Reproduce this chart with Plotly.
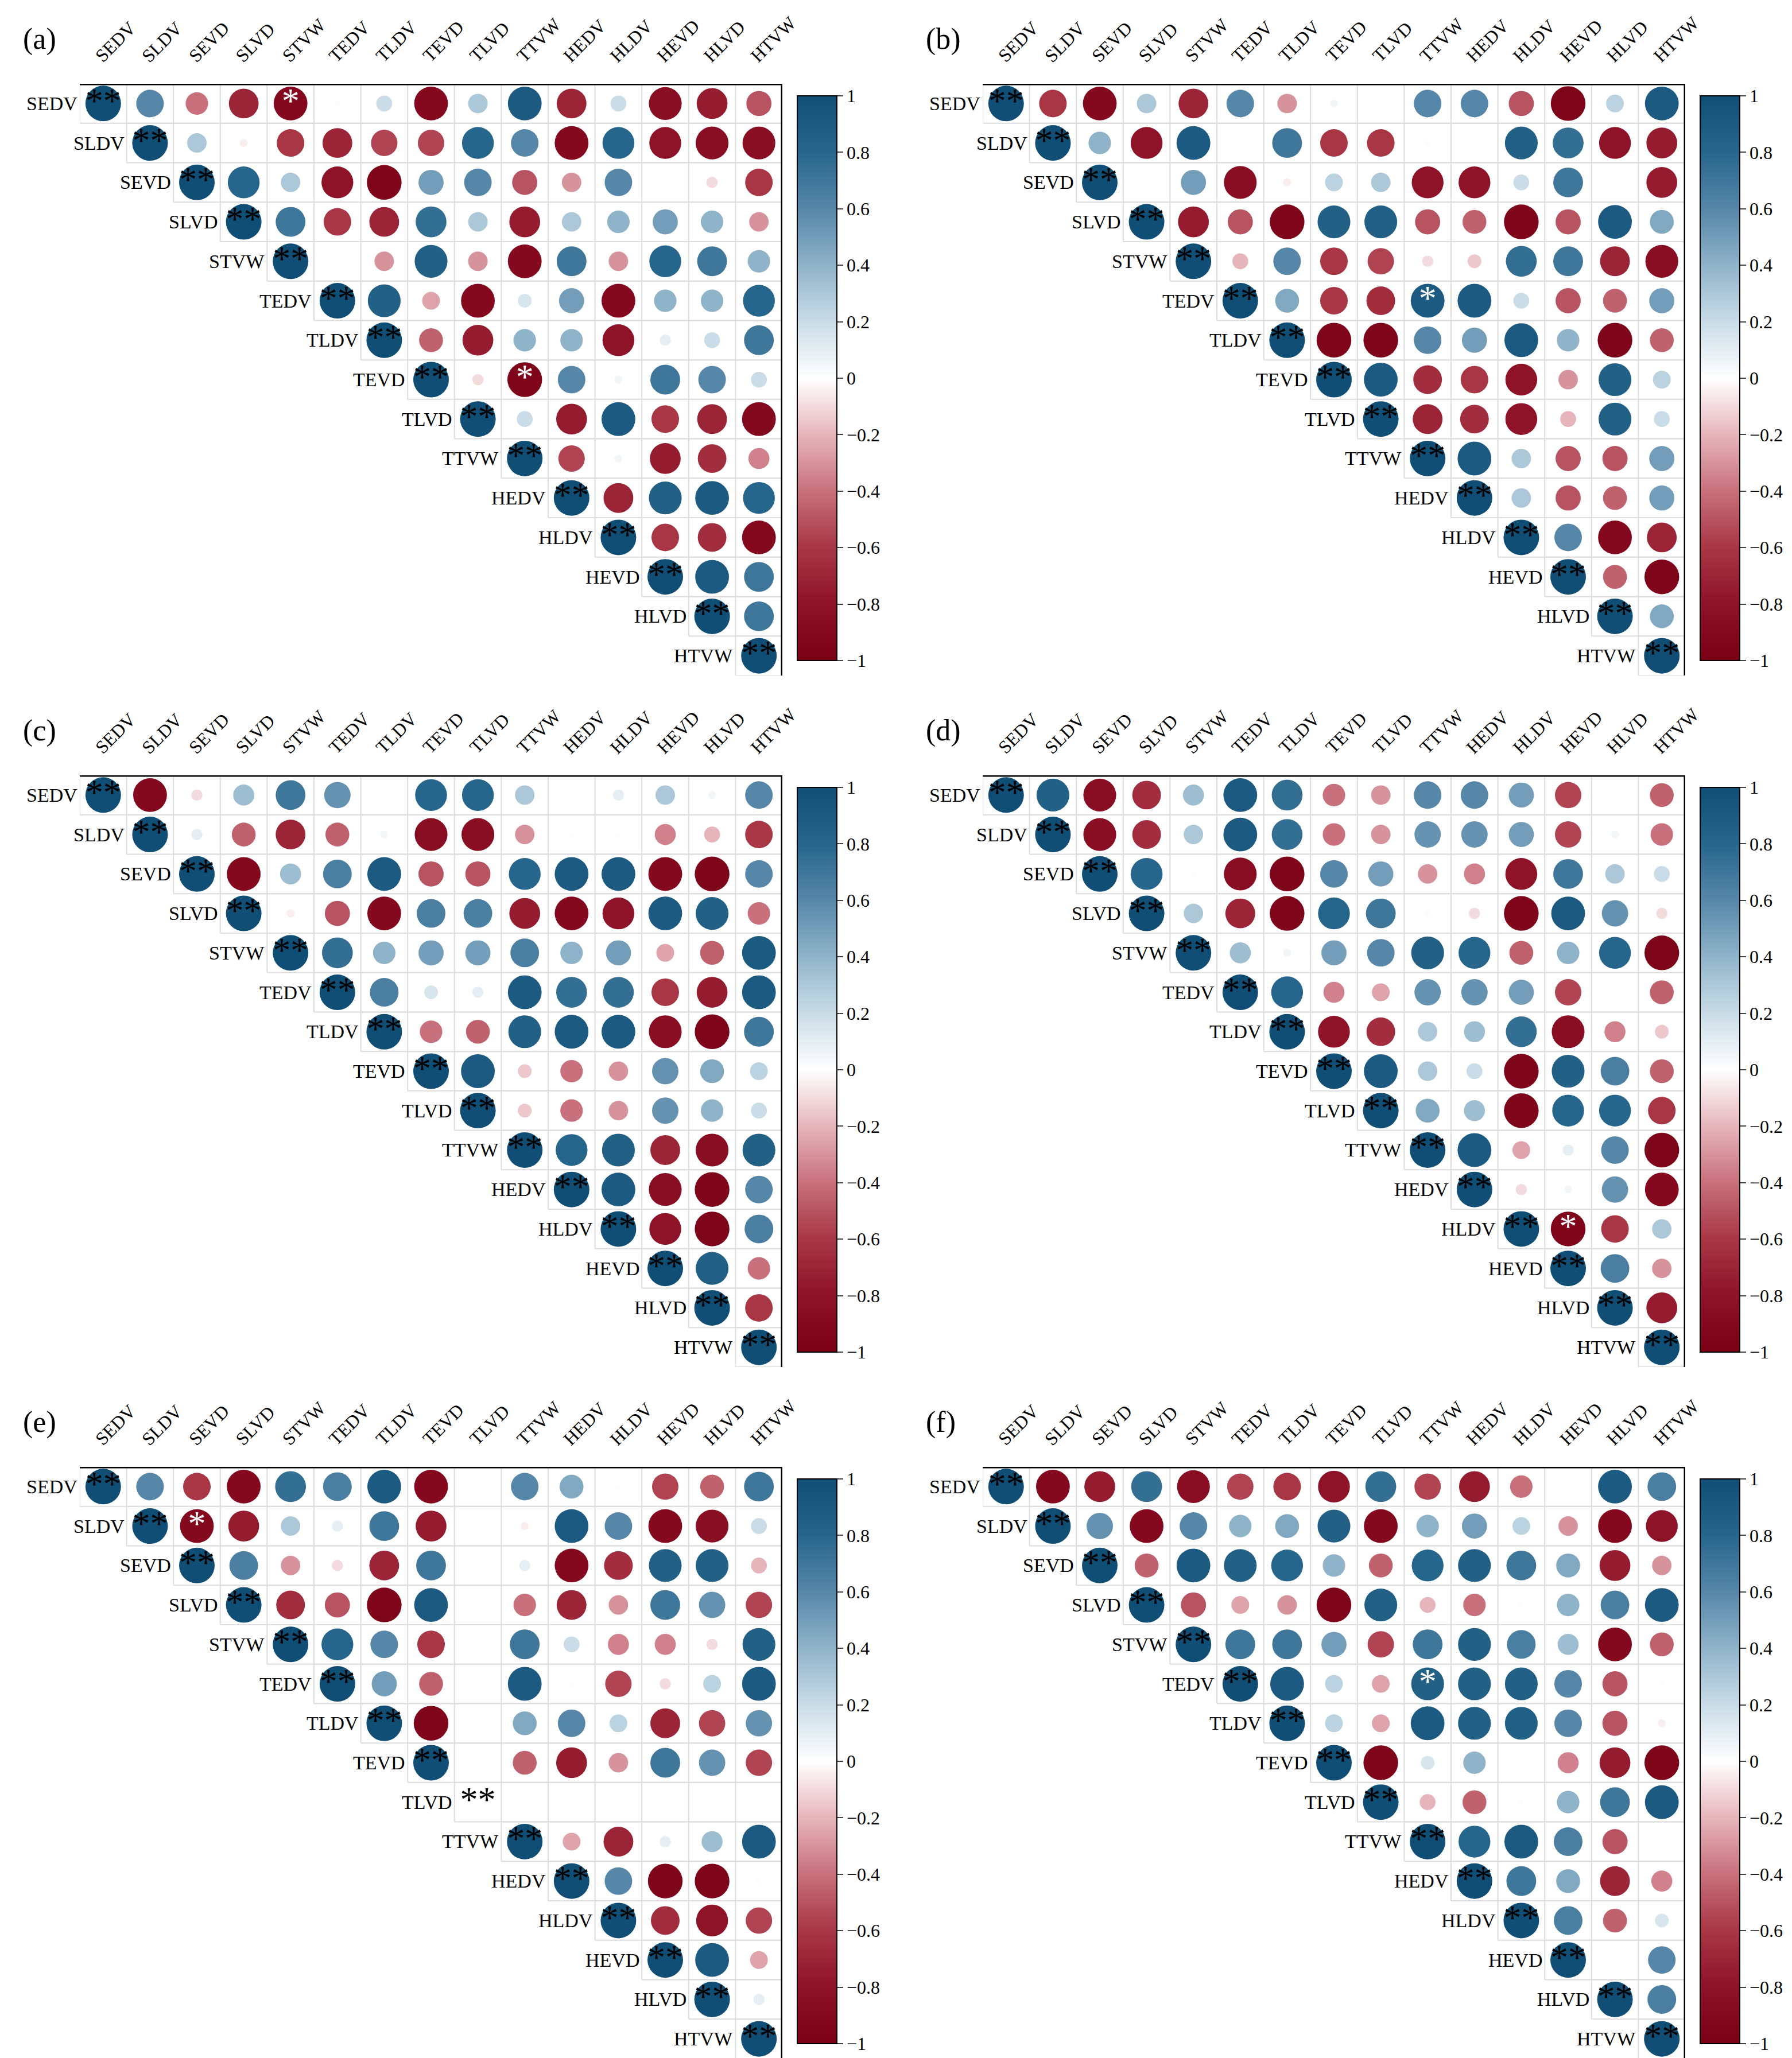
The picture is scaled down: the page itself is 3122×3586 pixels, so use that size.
import plotly.graph_objects as go
import numpy as np

VARS = ["SEDV","SLDV","SEVD","SLVD","STVW","TEDV","TLDV","TEVD","TLVD","TTVW","HEDV","HLDV","HEVD","HLVD","HTVW"]
N = None
# upper-triangle rows (values right of diagonal)
A = [
 [0.6,-0.4,-0.7,-0.9,0.02,0.2,-0.9,0.3,0.9,-0.7,0.2,-0.85,-0.75,-0.5],
 [0.3,-0.05,-0.6,-0.7,-0.55,-0.55,0.8,0.6,-0.9,0.8,-0.8,-0.85,-0.85],
 [0.8,0.3,-0.8,-0.95,0.5,0.6,-0.5,-0.3,0.6,0.0,-0.1,-0.6],
 [0.7,-0.6,-0.7,0.75,0.3,-0.75,0.3,0.4,0.5,0.4,-0.3],
 [0.0,-0.3,0.85,-0.3,-0.9,0.7,-0.3,0.8,0.7,0.4],
 [0.85,-0.25,-0.9,0.15,0.5,-0.9,0.4,0.4,0.8],
 [-0.45,-0.75,0.4,0.4,-0.8,0.1,0.2,0.7],
 [-0.1,-0.95,0.6,0.05,0.7,0.6,0.2],
 [0.2,-0.75,0.9,-0.6,-0.7,-0.9],
 [-0.55,0.05,-0.75,-0.65,-0.35],
 [-0.7,0.85,0.9,0.8],
 [-0.6,-0.65,-0.9],
 [0.9,0.7],
 [0.7],
]
B = [
 [-0.6,-0.9,0.3,-0.7,0.6,-0.3,0.05,0.0,0.6,0.6,-0.5,-0.95,0.25,0.9],
 [0.4,-0.8,0.9,0.0,0.7,-0.6,-0.6,0.02,0.0,0.85,0.75,-0.8,-0.75],
 [0.0,0.5,-0.85,-0.05,0.25,0.3,-0.8,-0.8,0.2,0.7,0.0,-0.75],
 [-0.75,-0.5,-0.95,0.85,0.85,-0.5,-0.45,-0.95,-0.5,0.9,0.45],
 [-0.2,0.6,-0.6,-0.55,-0.1,-0.15,0.75,0.7,-0.7,-0.85],
 [0.45,-0.6,-0.65,0.9,0.9,0.2,-0.5,-0.45,0.5],
 [-0.95,-0.95,0.6,0.5,0.9,0.4,-0.95,-0.45],
 [0.9,-0.65,-0.6,-0.8,-0.3,0.85,0.25],
 [-0.7,-0.65,-0.8,-0.2,0.85,0.2],
 [0.9,0.3,-0.5,-0.5,0.5],
 [0.3,-0.5,-0.45,0.5],
 [0.6,-0.9,-0.7],
 [-0.45,-0.95],
 [0.45],
]
C = [
 [-0.9,-0.1,0.35,0.7,0.55,0.0,0.8,0.8,0.3,0.0,0.1,0.3,0.05,0.6],
 [0.1,-0.45,-0.7,-0.45,0.05,-0.85,-0.85,-0.3,0.02,0.02,-0.35,-0.2,-0.6],
 [-0.9,0.35,0.65,0.9,-0.5,-0.5,0.8,0.9,0.9,-0.9,-0.95,0.6],
 [-0.05,-0.5,-0.9,0.65,0.65,-0.75,-0.9,-0.8,0.9,0.85,-0.4],
 [0.75,0.4,0.5,0.5,0.65,0.4,0.5,-0.25,-0.45,0.9],
 [0.65,0.15,0.1,0.9,0.75,0.75,-0.6,-0.75,0.9],
 [-0.4,-0.45,0.85,0.9,0.9,-0.85,-0.95,0.7],
 [0.9,-0.15,-0.4,-0.3,0.55,0.45,0.25],
 [-0.15,-0.4,-0.3,0.55,0.4,0.2],
 [0.8,0.85,-0.7,-0.85,0.85],
 [0.9,-0.85,-0.95,0.6],
 [-0.8,-0.95,0.65],
 [0.85,-0.4],
 [-0.6],
]
D = [
 [0.85,-0.85,-0.65,0.35,0.9,0.75,-0.4,-0.3,0.6,0.6,0.5,-0.55,0.0,-0.45],
 [-0.85,-0.65,0.3,0.9,0.75,-0.4,-0.3,0.55,0.55,0.5,-0.55,0.05,-0.4],
 [0.8,0.02,-0.85,-0.95,0.6,0.5,-0.3,-0.35,-0.8,0.7,0.3,0.2],
 [0.3,-0.7,-0.95,0.8,0.7,0.02,-0.1,-0.95,0.9,0.55,-0.1],
 [0.35,0.05,0.5,0.6,0.85,0.8,-0.45,0.4,0.8,-0.95],
 [0.8,-0.35,-0.25,0.55,0.55,0.5,-0.55,0.0,-0.45],
 [-0.8,-0.65,0.3,0.35,0.75,-0.85,-0.35,-0.15],
 [0.9,0.3,0.2,-0.95,0.85,0.65,-0.45],
 [0.45,0.35,-0.95,0.8,0.8,-0.6],
 [0.9,-0.25,0.1,0.6,-0.95],
 [-0.1,0.05,0.55,-0.9],
 [-0.95,-0.6,0.3],
 [0.65,-0.3],
 [-0.75],
]
E = [
 [0.6,-0.6,-0.9,0.75,0.65,0.9,-0.9,N,0.6,0.45,0.02,-0.55,-0.45,0.7],
 [-0.9,-0.75,0.3,0.1,0.7,-0.75,N,-0.05,0.9,0.6,-0.9,-0.85,0.2],
 [0.65,-0.3,-0.1,-0.7,0.7,N,0.1,-0.9,-0.65,0.85,0.85,-0.2],
 [-0.65,-0.5,-0.95,0.9,N,-0.4,-0.7,-0.3,0.7,0.55,-0.55],
 [0.8,0.6,-0.6,N,0.7,0.2,-0.35,-0.35,-0.1,0.85],
 [0.5,-0.45,N,0.9,0.02,-0.55,-0.1,0.25,0.9],
 [-0.95,N,0.45,0.6,0.25,-0.7,-0.55,0.55],
 [N,-0.45,-0.75,-0.3,0.7,0.55,-0.55],
 [N,N,N,N,N,N],
 [-0.25,-0.7,0.1,0.35,0.9],
 [0.6,-0.95,-0.95,0.02],
 [-0.65,-0.8,-0.55],
 [0.9,-0.25],
 [0.1],
]
F = [
 [-0.9,-0.75,0.75,-0.85,-0.55,-0.6,-0.8,0.75,-0.55,-0.75,-0.4,0.0,0.9,0.65],
 [0.55,-0.9,0.6,0.4,0.45,0.85,-0.9,0.4,0.5,0.25,-0.3,-0.9,-0.8],
 [-0.45,0.9,0.85,0.8,0.4,-0.45,0.8,0.85,0.7,0.45,-0.75,-0.3],
 [-0.5,-0.25,-0.3,-0.95,0.85,-0.2,-0.4,0.02,0.4,0.65,0.9],
 [0.7,0.7,0.5,-0.55,0.7,0.85,0.65,0.35,-0.9,-0.45],
 [0.9,0.25,-0.25,0.85,0.85,0.85,0.6,-0.5,0.02],
 [0.25,-0.25,0.9,0.85,0.85,0.6,-0.5,-0.05],
 [-0.95,0.15,0.4,0.0,-0.35,-0.75,-0.95],
 [-0.2,-0.45,0.02,0.4,0.7,0.9],
 [0.8,0.9,0.65,-0.5,0.0],
 [0.7,0.45,-0.7,-0.35],
 [0.65,-0.45,0.15],
 [0.0,0.6],
 [0.65],
]
PANELS = [("(a)",A),("(b)",B),("(c)",C),("(d)",D),("(e)",E),("(f)",F)]
SIG = {0:[(0,4),(7,9)],1:[(5,9)],2:[],3:[(11,12)],4:[(1,2)],5:[(5,9)]}
DIAG_EMPTY = {4:[8]}
TICKS = [-1,-0.8,-0.6,-0.4,-0.2,0,0.2,0.4,0.6,0.8,1]

W, H = 3122, 3586
CS = [[0,'#7A0016'],[0.1,'#8E1228'],[0.2,'#A83645'],[0.3,'#C8707C'],[0.4,'#E6B5BB'],
      [0.5,'#FFFFFF'],[0.6,'#C9DCE7'],[0.7,'#8FB3C9'],[0.8,'#5687A8'],[0.9,'#27668C'],[1,'#114E75']]
FONT = "Liberation Serif"
fig = go.Figure()
n = len(VARS)
annos = []
for p,(lab,M) in enumerate(PANELS):
    col, row = p % 2, p // 2
    x0 = 131 + col*1573; x1 = 1355 + col*1573
    y0 = 138 + row*1205; y1 = 1169 + row*1205
    cw = (x1-x0)/15; ch = (y1-y0)/15
    xd = [x0/W, x1/W]; yd = [1-y1/H, 1-y0/H]
    xa = f"x{p+1}" if p else "x"; ya = f"y{p+1}" if p else "y"
    xk = f"xaxis{p+1}" if p else "xaxis"; yk = f"yaxis{p+1}" if p else "yaxis"
    fig.layout[xk] = dict(domain=xd, range=[-0.5,14.5], visible=False, anchor=ya)
    fig.layout[yk] = dict(domain=yd, range=[14.5,-0.5], visible=False, anchor=xa)
    gx, gy = [], []
    for i in range(n):
        for j in range(i, n+1):
            gx += [j-0.5, j-0.5, None]; gy += [i-0.5, i+0.5, None]
        gx += [i-0.5, 14.5, None]; gy += [i+0.5, i+0.5, None]
        gx += [i-0.5, 14.5, None]; gy += [i-0.5, i-0.5, None]
    fig.add_trace(go.Scatter(x=gx, y=gy, mode="lines", line=dict(color="#DDDDDD", width=2),
                             xaxis=xa, yaxis=ya, showlegend=False, hoverinfo="skip"))
    fig.add_trace(go.Scatter(x=[-0.5,14.5,14.5], y=[-0.5,-0.5,14.5], mode="lines",
                             line=dict(color="black", width=5), xaxis=xa, yaxis=ya,
                             showlegend=False, hoverinfo="skip", cliponaxis=False))
    xs, ys, vs = [], [], []
    for i in range(n):
        if i not in DIAG_EMPTY.get(p, []):
            xs.append(i); ys.append(i); vs.append(1.0)
        if i < n-1:
            for k, v in enumerate(M[i]):
                if v is None: continue
                xs.append(i+1+k); ys.append(i); vs.append(v)
    vs = np.array(vs)
    fig.add_trace(go.Scatter(
        x=xs, y=ys, mode="markers", xaxis=xa, yaxis=ya, showlegend=False, cliponaxis=False,
        marker=dict(size=np.maximum(62*np.sqrt(np.abs(vs)), 1), color=vs, cmin=-1, cmax=1,
                    colorscale=CS, opacity=1, line=dict(width=0),
                    colorbar=dict(x=(1371+col*1573)/W, xanchor="left", y=1-(651+row*1205)/H,
                                  yanchor="middle", len=1004/H, lenmode="fraction",
                                  thickness=69, tickvals=TICKS, ticks="outside", ticklen=10,
                                  tickwidth=2, outlinewidth=2, outlinecolor="black",
                                  tickfont=dict(family=FONT, size=32, color="black"))),
    ))
    fig.add_trace(go.Scatter(x=list(range(n)), y=list(range(n)), mode="text", text=["**"]*n,
                             textfont=dict(family=FONT, size=62, color="black"),
                             textposition="middle center", xaxis=xa, yaxis=ya, cliponaxis=False,
                             showlegend=False, hoverinfo="skip"))
    if SIG[p]:
        fig.add_trace(go.Scatter(x=[c for r,c in SIG[p]], y=[r for r,c in SIG[p]], mode="text",
                                 text=["*"]*len(SIG[p]), textfont=dict(family=FONT, size=62, color="white"),
                                 textposition="middle center", xaxis=xa, yaxis=ya,
                                 showlegend=False, hoverinfo="skip"))
    for i, v in enumerate(VARS):
        annos.append(dict(x=(x0 + i*cw - 2)/W, y=1-(y0 + (i+0.5)*ch)/H, xref="paper", yref="paper",
                          text=v, showarrow=False, xanchor="right", yanchor="middle",
                          font=dict(family=FONT, size=34, color="black")))
        annos.append(dict(x=(x0 + (i+0.2)*cw)/W, y=1-(y0 - 28)/H, xref="paper", yref="paper",
                          text=v, showarrow=False, textangle=-45, xanchor="left", yanchor="bottom",
                          font=dict(family=FONT, size=32, color="black")))
    annos.append(dict(x=(30+col*1573)/W, y=1-(60+row*1205)/H, xref="paper", yref="paper", text=lab,
                      showarrow=False, xanchor="left", yanchor="middle",
                      font=dict(family=FONT, size=52, color="black")))

fig.update_layout(width=W, height=H, margin=dict(l=0,r=0,t=0,b=0), paper_bgcolor="white",
                  plot_bgcolor="white", annotations=annos)
fig.write_html("out.html")
